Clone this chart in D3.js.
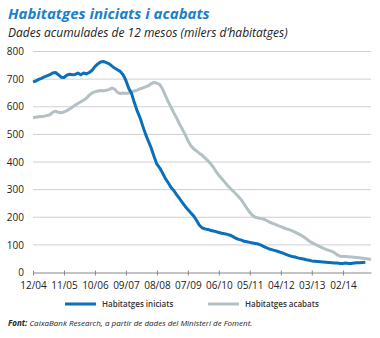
<!DOCTYPE html>
<html>
<head>
<meta charset="utf-8">
<script src="https://cdn.jsdelivr.net/npm/d3@7"></script>
<style>
  body { margin: 0; background: #fff; }
  svg { display: block; }
  .axis text { font-family: "Open Sans", sans-serif; font-size: 10px; fill: #222; }
</style>
</head>
<body>
<div id="chart"></div>
<script>
// monthly series, first month = 12/2004
const startMonth = new Date(2004, 11, 1);

const iniciats = [
  690, 693, 699, 703, 708, 712, 716, 722, 724, 716, 707, 706, 714, 718, 716, 717,
  722, 716, 722, 719, 724, 732, 745, 755, 762, 764, 760, 756, 748, 740, 734, 728,
  716, 695, 667, 648, 615, 585, 560, 530, 500, 475, 450, 420, 392, 378, 360, 340,
  325, 308, 296, 282, 268, 254, 240, 228, 216, 205, 190, 172, 162, 158, 156, 153,
  150, 148, 145, 142, 140, 138, 135, 130, 124, 120, 117, 113, 111, 109, 107, 105,
  103, 99, 94, 89, 85, 82, 79, 76, 73, 69, 65, 61, 58, 56, 53, 51,
  49, 46, 44, 42, 41, 40, 39, 38, 37, 36, 35, 34, 34, 33, 33, 34,
  33, 33, 34, 35, 35, 36, 37
];

const acabats = [
  560, 562, 564, 565, 566, 568, 571, 580, 584, 580, 578, 581, 586, 592, 599, 606,
  612, 618, 624, 631, 642, 650, 654, 657, 659, 658, 660, 662, 668, 664, 652, 648,
  650, 648, 650, 655, 657, 660, 665, 668, 672, 676, 684, 688, 685, 680, 664, 640,
  618, 598, 577, 560, 538, 520, 500, 478, 460, 448, 440, 432, 425, 415, 405, 395,
  382, 366, 352, 340, 328, 316, 305, 295, 285, 274, 262, 248, 232, 218, 206, 200,
  197, 195, 193, 188, 182, 178, 174, 170, 166, 162, 158, 155, 151, 146, 141, 136,
  130, 122, 114, 108, 103, 98, 93, 88, 84, 80, 77, 72, 64, 59, 58, 58,
  57, 56, 55, 54, 53, 52, 51, 49, 47
];

const yTicks = [0, 100, 200, 300, 400, 500, 600, 700, 800];
const xTickLabels = ["12/04", "11/05", "10/06", "09/07", "08/08", "07/09", "06/10", "05/11", "04/12", "03/13", "02/14"];

const series = [
  { name: "Habitatges iniciats", values: iniciats, color: "#0b6fba" },
  { name: "Habitatges acabats", values: acabats, color: "#b3c1c4" }
];

const W = 380, H = 338;
const svg = d3.select("#chart").append("svg")
  .attr("width", W).attr("height", H);

const parseTick = d3.timeParse("%m/%y");
const monthOf = i => d3.timeMonth.offset(startMonth, i);

const x = d3.scaleTime()
  .domain([startMonth, monthOf(120)])
  .range([33, 371]);

const y = d3.scaleLinear()
  .domain([0, 800])
  .range([272.5, 51.5]);

// titles
svg.append("text")
  .attr("x", 8).attr("y", 19)
  .attr("font-family", "'Open Sans', sans-serif")
  .attr("font-size", 15).attr("font-weight", "bold").attr("font-style", "italic")
  .attr("fill", "#1a80c8")
  .text("Habitatges iniciats i acabats");

svg.append("text")
  .attr("x", 8).attr("y", 37)
  .attr("font-family", "'Open Sans', sans-serif")
  .attr("font-size", 12).attr("font-style", "italic")
  .attr("fill", "#222")
  .text("Dades acumulades de 12 mesos (milers d\u2019habitatges)");

// gridlines
svg.append("g")
  .selectAll("line")
  .data(yTicks.filter(d => d > 0))
  .join("line")
  .attr("x1", 33).attr("x2", 371)
  .attr("y1", d => y(d)).attr("y2", d => y(d))
  .attr("stroke", "#cfcfcf").attr("stroke-width", 1);

// y axis labels
const yAxis = svg.append("g")
  .attr("class", "axis")
  .attr("transform", "translate(33,0)")
  .call(d3.axisLeft(y).tickValues(yTicks).tickSize(0).tickPadding(9));
yAxis.select(".domain").remove();

// x axis
const xAxis = svg.append("g")
  .attr("class", "axis")
  .attr("transform", `translate(0,${y(0)})`)
  .call(d3.axisBottom(x)
    .tickValues(xTickLabels.map(parseTick))
    .tickFormat(d3.timeFormat("%m/%y"))
    .tickSize(3).tickSizeOuter(0).tickPadding(6));
xAxis.select(".domain").attr("stroke", "#888");
xAxis.selectAll(".tick line").attr("stroke", "#888").attr("y1", -2);

// lines
const line = d3.line()
  .x((d, i) => x(monthOf(i)))
  .y(d => y(d));

series.slice().reverse().forEach(s => {
  svg.append("path")
    .datum(s.values)
    .attr("fill", "none")
    .attr("stroke", s.color)
    .attr("stroke-width", 3)
    .attr("stroke-linejoin", "round")
    .attr("d", line);
});

// legend
const legendX = [65, 208];
const legend = svg.append("g")
  .selectAll("g")
  .data(series)
  .join("g")
  .attr("transform", (d, i) => `translate(${legendX[i]},304)`);
legend.append("line")
  .attr("x1", 0).attr("x2", 31)
  .attr("stroke", d => d.color).attr("stroke-width", 3);
legend.append("text")
  .attr("x", 37).attr("y", 3)
  .attr("font-family", "'Open Sans', sans-serif")
  .attr("font-size", 8).attr("font-weight", 600)
  .attr("fill", "#333")
  .text(d => d.name);

// source
const src = svg.append("text")
  .attr("x", 8).attr("y", 326)
  .attr("font-family", "'Open Sans', sans-serif")
  .attr("font-size", 8).attr("font-style", "italic")
  .attr("fill", "#222");
src.append("tspan").attr("font-weight", "bold").text("Font:");
src.append("tspan").text(" CaixaBank Research, a partir de dades del Ministeri de Foment.");
</script>
</body>
</html>
